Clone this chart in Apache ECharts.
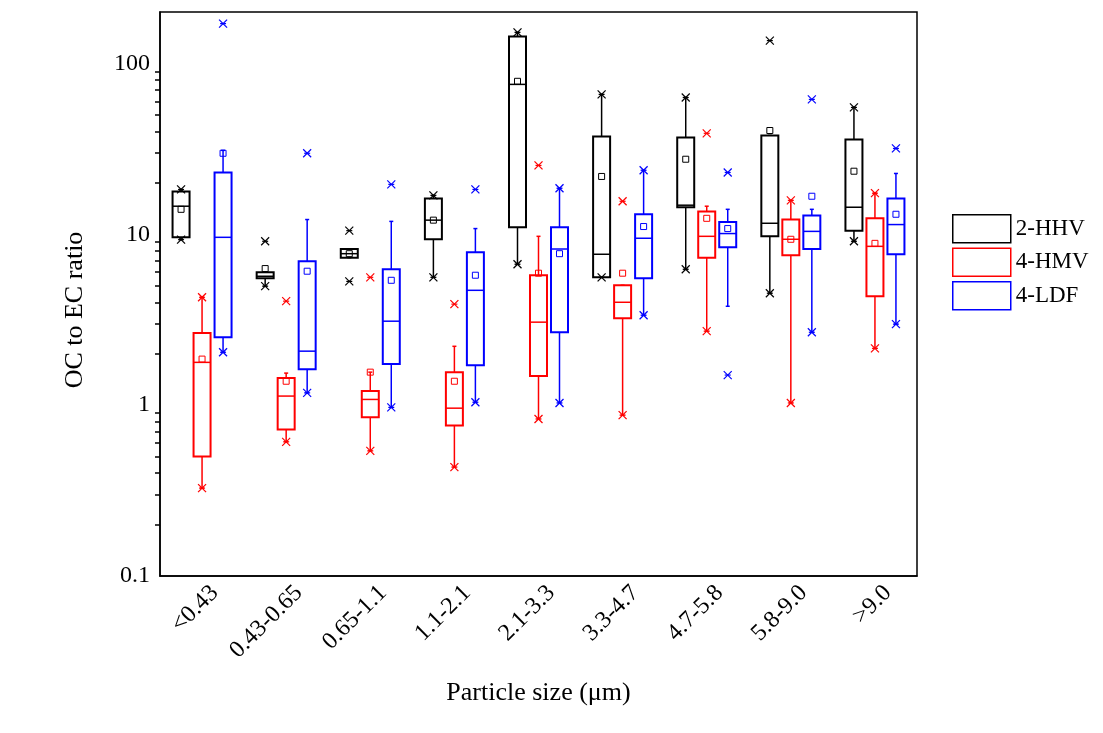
<!DOCTYPE html>
<html>
<head>
<meta charset="utf-8">
<script src="https://cdn.jsdelivr.net/npm/echarts@6/dist/echarts.min.js"></script>
<style>
  html, body { margin:0; padding:0; background:#fff; }
  #chart { width:1103px; height:733px; }
</style>
</head>
<body>
<div id="chart"></div>
<script>
var categories = ['<0.43', '0.43-0.65', '0.65-1.1', '1.1-2.1', '2.1-3.3', '3.3-4.7', '4.7-5.8', '5.8-9.0', '>9.0'];
var seriesNames = ['2-HHV', '4-HMV', '4-LDF'];
var colors = ['#000000', '#ff0000', '#0000ff'];

// each row: [low whisker, Q1, median, Q3, high whisker, mean]
var hhvStats = [
  [9.3, 9.6, 14.6, 17.8, 18.3, 14.0],
  [4.97, 5.53, 5.68, 6.0, 6.0, 6.3],
  [7.3, 7.3, 7.7, 8.2, 8.2, 7.7],
  [5.6, 9.35, 12.1, 16.2, 16.9, 12.1],
  [6.68, 11.0, 75.4, 144, 152, 78.6],
  [5.6, 5.6, 7.64, 37.4, 65.9, 21.8],
  [6.24, 14.4, 14.8, 36.9, 63.2, 27.5],
  [4.52, 9.73, 11.6, 37.9, 37.9, 40.5],
  [9.1, 10.5, 14.4, 35.9, 55.3, 23.4]
];
var hmvStats = [
  [0.327, 0.50, 1.78, 2.64, 4.28, 1.86],
  [0.61, 0.72, 1.13, 1.44, 1.54, 1.38],
  [0.54, 0.85, 1.08, 1.21, 1.56, 1.56],
  [0.434, 0.76, 0.96, 1.56, 2.21, 1.38],
  [0.83, 1.48, 3.06, 5.76, 9.73, 5.92],
  [0.874, 3.23, 4.0, 5.03, 5.03, 5.92],
  [2.71, 7.3, 9.73, 13.6, 14.6, 12.4],
  [1.03, 7.53, 9.35, 12.2, 15.8, 9.35],
  [2.15, 4.34, 8.5, 12.4, 17.4, 8.85]
];
var ldfStats = [
  [2.04, 2.5, 9.6, 23.0, 31, 29.8],
  [1.18, 1.62, 2.07, 6.95, 12.2, 6.08],
  [0.97, 1.74, 3.1, 6.24, 11.9, 5.38],
  [1.04, 1.71, 4.7, 7.85, 10.8, 5.76],
  [1.03, 2.67, 8.2, 11.0, 18.6, 7.7],
  [3.36, 5.53, 9.48, 13.1, 23.7, 11.1],
  [3.79, 8.4, 10.1, 11.8, 14.0, 10.8],
  [2.67, 8.2, 10.4, 12.9, 14.0, 16.7],
  [2.98, 7.64, 11.4, 16.2, 22.7, 13.1]
];
// x markers (min/max and outliers) per category
var hhvMarks = [[18.3, 9.3], [9.1, 4.97], [10.5, 5.3], [16.9, 5.6], [152, 6.68], [65.9, 5.6], [63.2, 6.24], [136, 4.52], [55.3, 9.1]];
var hmvMarks = [[4.28, 0.327], [0.61, 4.06], [0.54, 5.6], [0.434, 3.9], [0.83, 25.3], [0.874, 15.6], [2.71, 39.0], [15.8, 1.03], [17.4, 2.15]];
var ldfMarks = [[2.04, 171], [1.18, 29.8], [0.97, 19.6], [1.04, 18.3], [18.6, 1.03], [23.7, 3.36], [23.0, 1.50], [61.6, 2.67], [31.8, 2.98]];
var yTicks = [0.1, 1, 10, 100];

var allStats = [hhvStats, hmvStats, ldfStats];
var allMarks = [hhvMarks, hmvMarks, ldfMarks];
var offsets = [-21, 0, 21];
var boxW = 17;

function boxRender(k) {
  return function (params, api) {
    var i = api.value(0);
    var c = api.coord([i, api.value(3)]);
    var x = c[0] + offsets[k];
    var y = function (d) { return api.coord([i, api.value(d)])[1]; };
    var lo = y(1), q1 = y(2), med = y(3), q3 = y(4), hi = y(5), mean = y(6);
    var st = { stroke: colors[k], lineWidth: 1.5, fill: null };
    var h = boxW / 2;
    return {
      type: 'group',
      children: [
        { type: 'line', shape: { x1: x, y1: q3, x2: x, y2: hi }, style: st },
        { type: 'line', shape: { x1: x, y1: q1, x2: x, y2: lo }, style: st },
        { type: 'line', shape: { x1: x - 2, y1: hi, x2: x + 2, y2: hi }, style: st },
        { type: 'line', shape: { x1: x - 2, y1: lo, x2: x + 2, y2: lo }, style: st },
        { type: 'rect', shape: { x: x - h, y: q3, width: boxW, height: q1 - q3 }, style: { stroke: colors[k], lineWidth: 2, fill: '#fff' } },
        { type: 'line', shape: { x1: x - h, y1: med, x2: x + h, y2: med }, style: st },
        { type: 'rect', shape: { x: x - 3, y: mean - 3, width: 6, height: 6 }, style: { stroke: colors[k], lineWidth: 1, fill: null } }
      ]
    };
  };
}
function markRender(k) {
  return function (params, api) {
    var c = api.coord([api.value(0), api.value(1)]);
    var x = c[0] + offsets[k], y = c[1], s = 4;
    var st = { stroke: colors[k], lineWidth: 1.2 };
    return {
      type: 'group',
      children: [
        { type: 'line', shape: { x1: x - s, y1: y - s, x2: x + s, y2: y + s }, style: st },
        { type: 'line', shape: { x1: x - s, y1: y + s, x2: x + s, y2: y - s }, style: st },
        { type: 'line', shape: { x1: x - 3, y1: y, x2: x + 3, y2: y }, style: st }
      ]
    };
  };
}

var series = [];
for (var k = 0; k < 3; k++) {
  series.push({
    name: seriesNames[k], type: 'custom', renderItem: boxRender(k),
    itemStyle: { color: '#fff', borderColor: colors[k], borderWidth: 1.5 },
    encode: { x: 0, y: [1, 2, 3, 4, 5, 6] },
    data: allStats[k].map(function (r, i) { return [i].concat(r); }),
    z: 2
  });
  var md = [];
  allMarks[k].forEach(function (arr, i) { arr.forEach(function (v) { md.push([i, v]); }); });
  series.push({
    type: 'custom', renderItem: markRender(k),
    encode: { x: 0, y: 1 }, data: md, z: 3
  });
}

var chart = echarts.init(document.getElementById('chart'));
chart.setOption({
  animation: false,
  textStyle: { fontFamily: 'Liberation Serif' },
  grid: { left: 160, right: 186, top: 12, bottom: 157, show: true, borderColor: '#000', borderWidth: 1.5 },
  legend: {
    orient: 'vertical', left: 947, top: 209, itemWidth: 58, itemHeight: 28, itemGap: 4,
    icon: 'rect',
    textStyle: { fontSize: 23, color: '#000', fontFamily: 'Liberation Serif' },
    data: seriesNames.map(function (n, k) {
      return { name: n, itemStyle: { color: '#fff', borderColor: colors[k], borderWidth: 1.5 } };
    })
  },
  xAxis: {
    type: 'category', data: categories, name: 'Particle size (\u03bcm)',
    nameLocation: 'middle', nameGap: 104,
    nameTextStyle: { fontSize: 26, color: '#000', fontFamily: 'Liberation Serif' },
    axisLine: { lineStyle: { color: '#000', width: 1.5 } },
    axisTick: { length: 8, lineStyle: { color: '#000', width: 1.5 } },
    axisLabel: { rotate: 45, fontSize: 24, color: '#000', interval: 0, margin: 26, padding: [0, -18, 0, 0] },
    splitLine: { show: false }
  },
  yAxis: {
    type: 'log', logBase: 10, min: 0.1, max: 200, name: 'OC to EC ratio',
    nameLocation: 'middle', nameGap: 72,
    nameTextStyle: { fontSize: 26, color: '#000', fontFamily: 'Liberation Serif', padding: [0, 32, 0, 0] },
    axisLine: { show: true, lineStyle: { color: '#000', width: 1.5 } },
    axisTick: { length: 10, lineStyle: { color: '#000', width: 1.5 } },
    minorTick: { show: true, splitNumber: 9, length: 5, lineStyle: { color: '#000', width: 1.5 } },
    axisLabel: {
      fontSize: 24, color: '#000', showMaxLabel: false, margin: 10,
      formatter: function (v) { return yTicks.indexOf(+v) >= 0 ? String(v) : ''; }
    },
    splitLine: { show: false }
  },
  series: series
});
</script>
</body>
</html>
